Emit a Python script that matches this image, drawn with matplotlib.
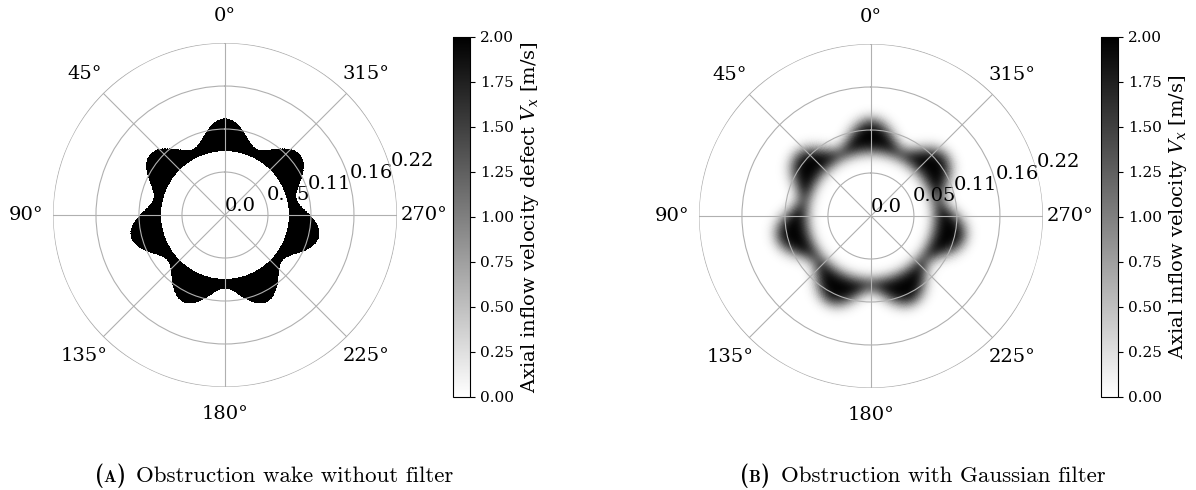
import numpy as np
import matplotlib
matplotlib.use('Agg')
import matplotlib.pyplot as plt

plt.rcParams['font.family'] = 'DejaVu Serif'
plt.rcParams['mathtext.fontset'] = 'dejavuserif'

# geometry of the wake
n_lobes = 7                 # number of lobes of the obstruction wake
hub_radius = 0.082          # inner edge of the black ring
wake_peak_radius = 0.1236   # outer edge at a lobe
wake_trough_radius = 0.094  # outer edge between two lobes
defect_value = 2.0          # velocity defect inside the wake [m/s]
filter_sigma_r = 0.008      # width of the gaussian filter (radial)

r_max = 0.22
r_ticks = [0.0, 0.055, 0.11, 0.165, 0.22]
r_tick_labels = ['0.0', '0.05', '0.11', '0.16', '0.22']
theta_ticks = [0, 45, 90, 135, 180, 225, 270, 315]
cbar_ticks = [0.0, 0.25, 0.5, 0.75, 1.0, 1.25, 1.5, 1.75, 2.0]

cbar_labels = [r'Axial inflow velocity defect $V_x$ [m/s]',
               r'Axial inflow velocity $V_x$ [m/s]']
captions = [('A', 'Obstruction wake without filter'),
            ('B', 'Obstruction with Gaussian filter')]

# grid
nth, nr = 1080, 500
th = np.linspace(0, 2*np.pi, nth, endpoint=False)
rr = np.linspace(0, r_max, nr)
TH, RR = np.meshgrid(th, rr, indexing='ij')

r_mean = 0.5*(wake_peak_radius + wake_trough_radius)
r_amp = 0.5*(wake_peak_radius - wake_trough_radius)
r_out = r_mean + r_amp*np.cos(n_lobes*TH)
wake = np.where((RR >= hub_radius) & (RR <= r_out), defect_value, 0.0)


# gaussian filter, periodic in theta, clamped in r
def blur(field, sig_th, sig_r):
    dth = th[1] - th[0]
    dr = rr[1] - rr[0]
    out = field.copy()
    # theta
    n = int(4*sig_th/dth)
    k = np.exp(-0.5*(np.arange(-n, n+1)*dth/sig_th)**2)
    k /= k.sum()
    pad = np.pad(out, ((n, n), (0, 0)), mode='wrap')
    out = np.apply_along_axis(lambda v: np.convolve(v, k, mode='valid'), 0, pad)
    # r
    n = int(4*sig_r/dr)
    k = np.exp(-0.5*(np.arange(-n, n+1)*dr/sig_r)**2)
    k /= k.sum()
    pad = np.pad(out, ((0, 0), (n, n)), mode='edge')
    out = np.apply_along_axis(lambda v: np.convolve(v, k, mode='valid'), 1, pad)
    return out


wake_filtered = blur(wake, filter_sigma_r/r_mean, filter_sigma_r)

fig = plt.figure(figsize=(11.96, 4.9), dpi=100)
ax_rects = [[0.0443, 0.2102, 0.2876, 0.702], [0.5844, 0.2082, 0.2876, 0.702]]
cax_rects = [[0.3788, 0.1898, 0.0142, 0.7347], [0.9206, 0.1898, 0.0142, 0.7347]]
label_sizes = [14, 14]

for i, field in enumerate([wake, wake_filtered]):
    ax = fig.add_axes(ax_rects[i], projection='polar')
    ax.set_theta_zero_location('N')
    ax.set_theta_direction(1)
    m = ax.pcolormesh(th, rr, field.T, cmap='gray_r', vmin=0, vmax=2,
                      shading='nearest', rasterized=True)
    ax.set_ylim(0, r_max)
    ax.set_thetagrids(theta_ticks, [f'{t}°' for t in theta_ticks], fontsize=14)
    ax.set_rticks(r_ticks)
    ax.set_yticklabels(r_tick_labels, fontsize=14)
    ax.set_rlabel_position(285)
    ax.grid(True, color='#b0b0b0', lw=0.8)
    ax.spines['polar'].set_visible(False)
    ax.tick_params(axis='x', pad=9)

    cax = fig.add_axes(cax_rects[i])
    cb = fig.colorbar(m, cax=cax, ticks=cbar_ticks, format='%.2f')
    cb.ax.tick_params(labelsize=11)
    cb.set_label(cbar_labels[i], fontsize=label_sizes[i])

# captions, small caps letter in bold
fig.canvas.draw()
renderer = fig.canvas.get_renderer()
cap_x = [95, 740]
for i, (letter, text) in enumerate(captions):
    x = cap_x[i]
    y = 8
    for s, fam, size in [('(', 'cmb10', 16.5), (letter, 'cmb10', 12), (')', 'cmb10', 16.5),
                         (text, 'cmr10', 16.5)]:
        t = fig.text(x/1196, y/490, s, fontfamily=fam, fontsize=size, va='baseline')
        x += t.get_window_extent(renderer).width
        if s == ')':
            x += 11

fig.savefig('out.png', dpi=100)
